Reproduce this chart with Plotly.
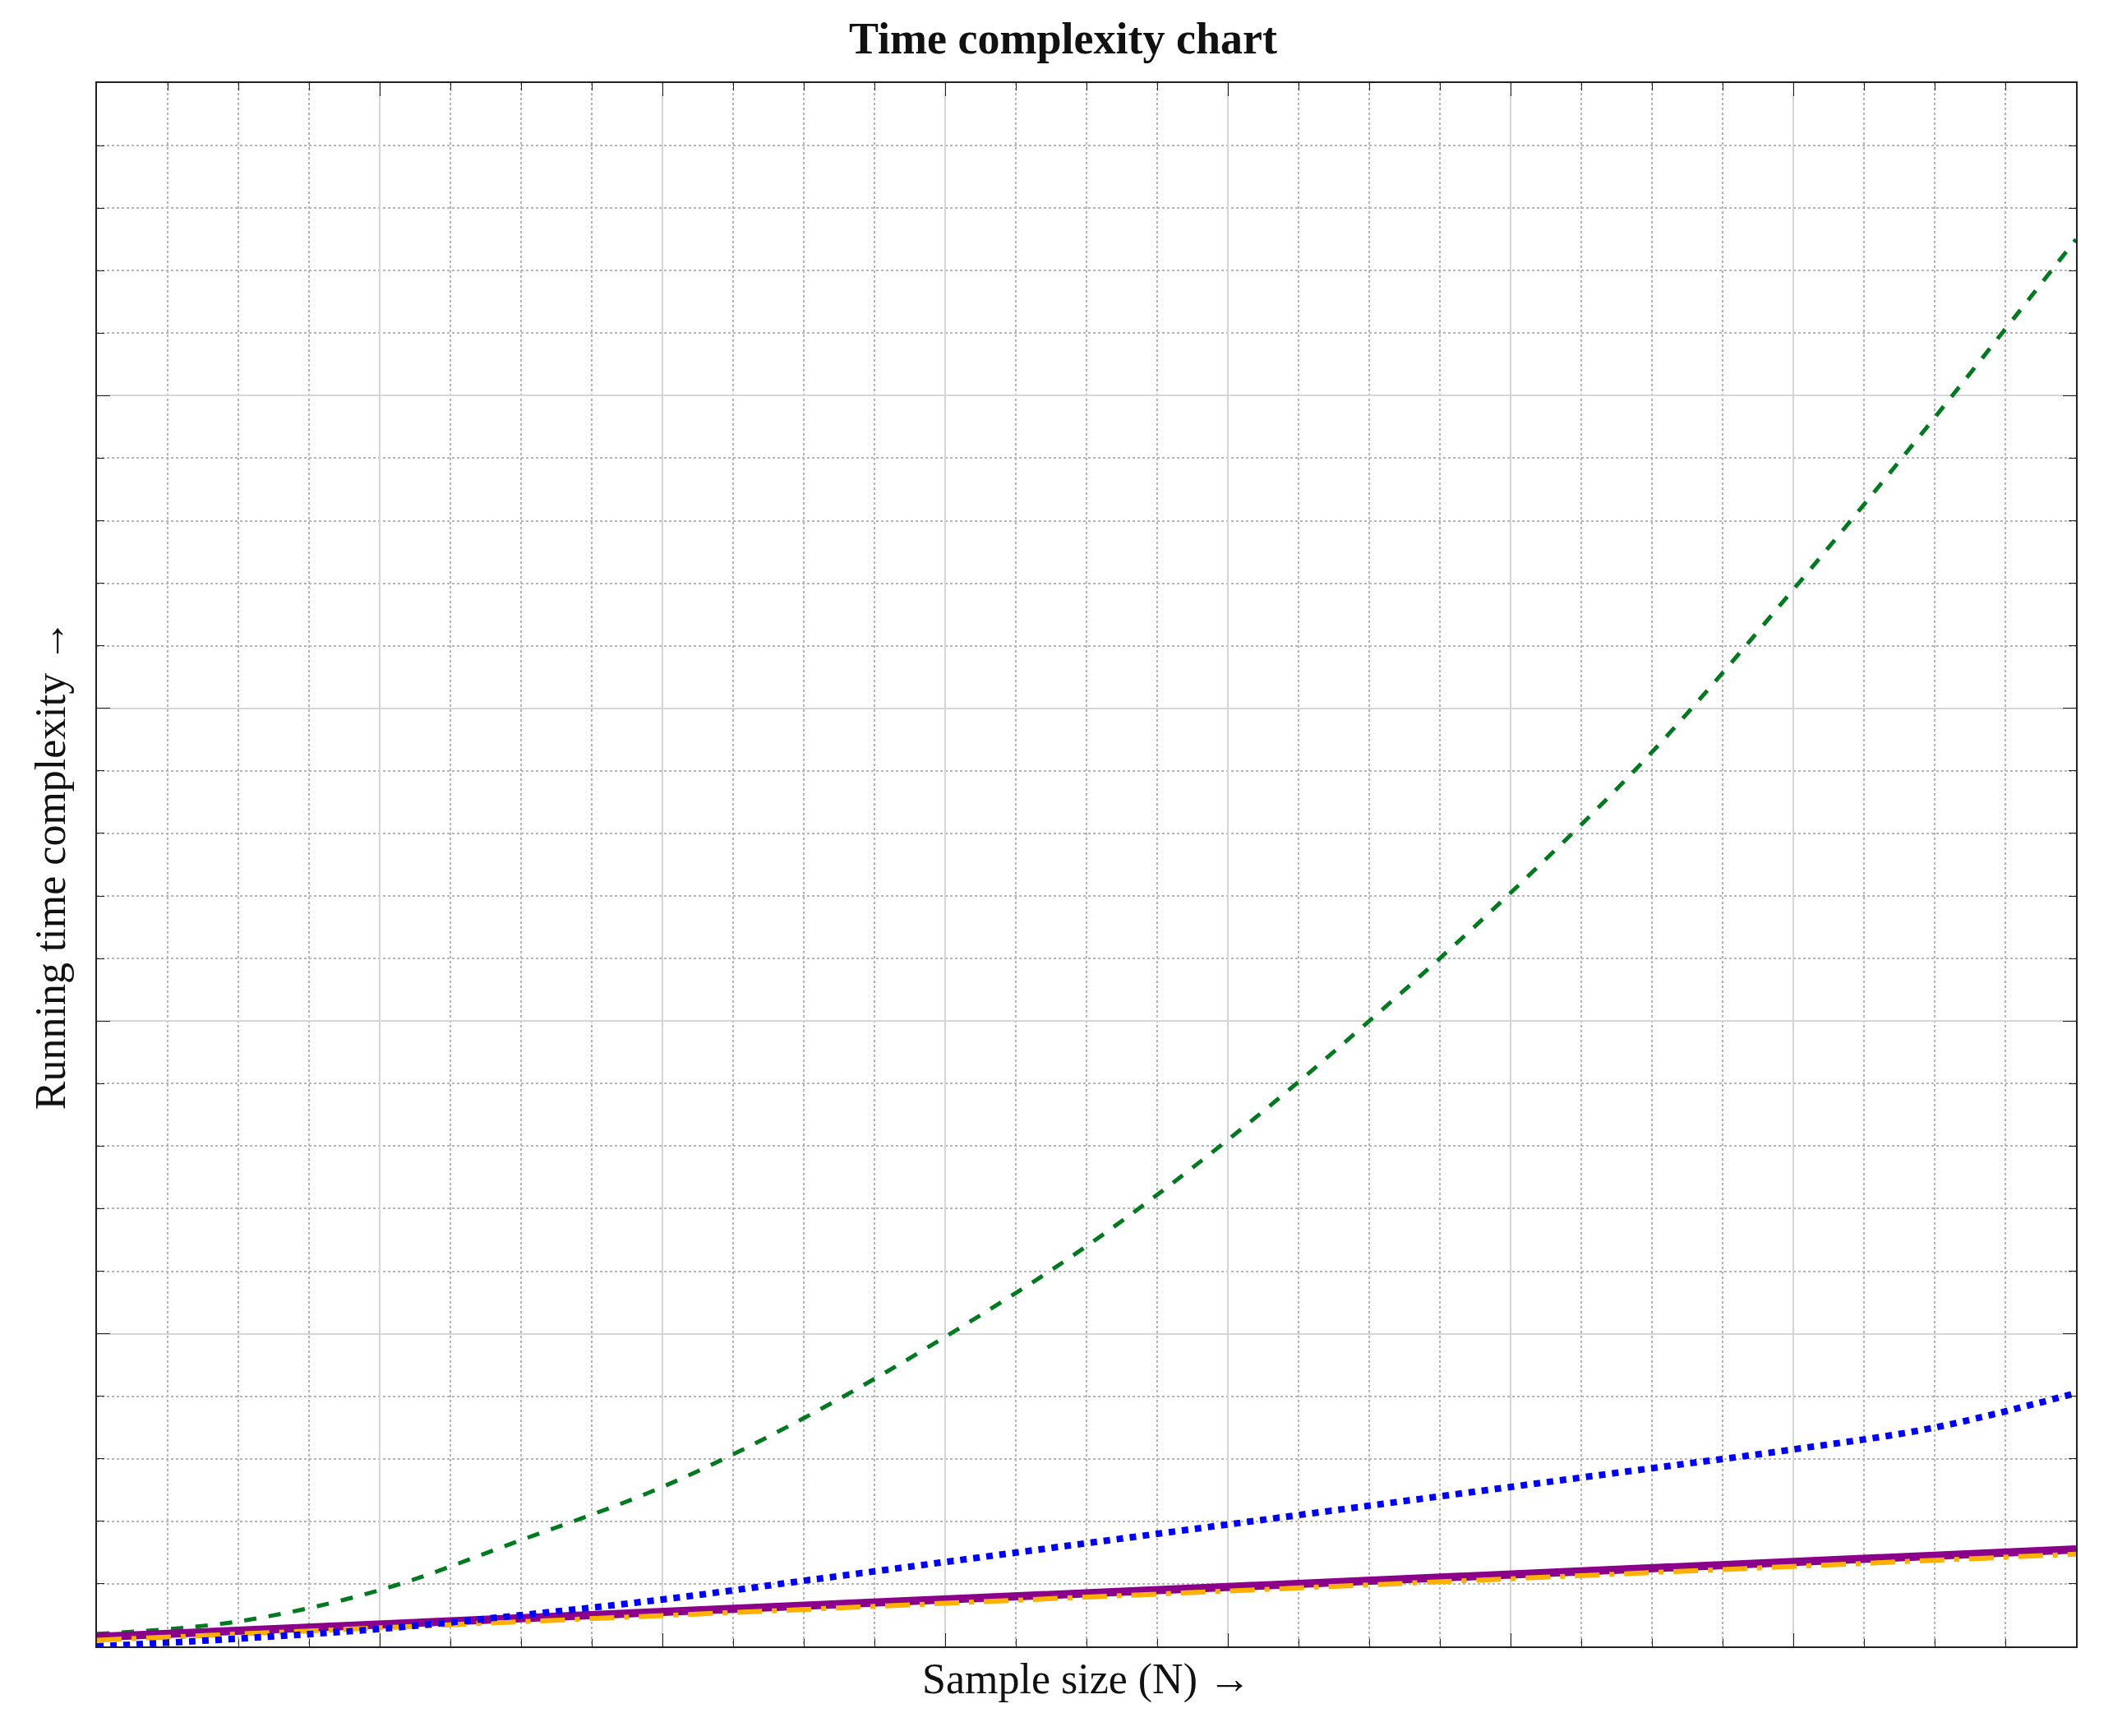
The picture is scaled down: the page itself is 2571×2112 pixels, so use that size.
import plotly.graph_objects as go

x = [0, 0.5, 1, 1.5, 2, 2.5, 3, 3.5, 4, 4.5, 5, 5.5, 6, 6.5, 7]
quad = [0.04, 0.08, 0.18, 0.34, 0.51, 0.73, 0.99, 1.28, 1.62, 2.0, 2.41, 2.86, 3.38, 3.93, 4.50]
nlogn = [0.0, 0.025, 0.056, 0.10, 0.15, 0.21, 0.27, 0.33, 0.39, 0.45, 0.51, 0.57, 0.63, 0.70, 0.81]
xl = [0, 7]
lin_a = [0.03, 0.31]
lin_b = [0.02, 0.295]

fig = go.Figure()
fig.add_trace(go.Scatter(x=x, y=quad, mode="lines", line=dict(color="#007a1f", width=5, dash="dash", shape="spline")))
fig.add_trace(go.Scatter(x=xl, y=lin_a, mode="lines", line=dict(color="#8b008b", width=10)))
fig.add_trace(go.Scatter(x=xl, y=lin_b, mode="lines", line=dict(color="#ffb000", width=6, dash="longdashdot")))
fig.add_trace(go.Scatter(x=x, y=nlogn, mode="lines", line=dict(color="#0000ff", width=8, dash="dot", shape="spline")))

axis_common = dict(showticklabels=False, ticks="inside", ticklen=16, tickcolor="#222", mirror="ticks",
                   showline=True, linecolor="#222", linewidth=2, zeroline=False,
                   showgrid=True, gridcolor="#d6d6d6", gridwidth=2)
fig.update_xaxes(range=[0, 7], dtick=1, **axis_common,
                 minor=dict(dtick=0.25, showgrid=True, gridcolor="#b5b5b5", griddash="dot", gridwidth=1.5,
                            ticks="inside", ticklen=9, tickcolor="#222"),
                 title=dict(text="Sample size (N) →", font=dict(size=52), standoff=20))
fig.update_yaxes(range=[0, 5], dtick=1, **axis_common,
                 minor=dict(dtick=0.2, showgrid=True, gridcolor="#b5b5b5", griddash="dot", gridwidth=1.5,
                            ticks="inside", ticklen=9, tickcolor="#222"),
                 title=dict(text="Running time complexity →", font=dict(size=52), standoff=20))
fig.update_layout(width=2571, height=2112, showlegend=False,
                  plot_bgcolor="white", paper_bgcolor="white",
                  font=dict(family="Liberation Serif, DejaVu Serif, serif", color="#111"),
                  margin=dict(l=110, r=53, t=93, b=117),
                  title=dict(text="<b>Time complexity chart</b>", x=0.5, xanchor="center",
                             y=0.982, yanchor="middle", font=dict(size=54)))
fig.write_html("out.html")
